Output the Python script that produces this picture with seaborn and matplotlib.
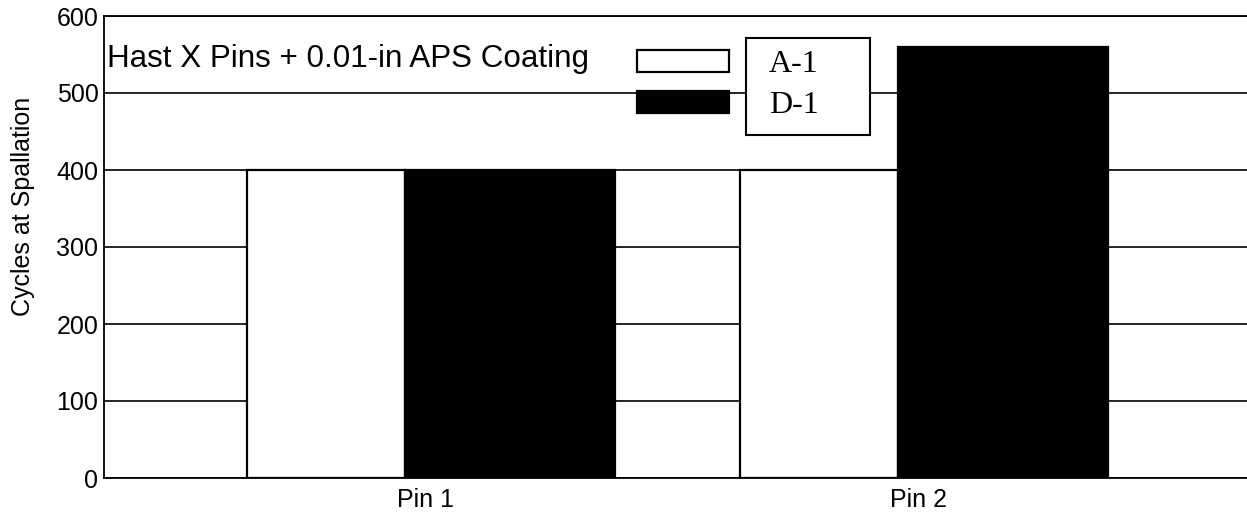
import matplotlib
matplotlib.use("Agg")
import matplotlib.pyplot as plt
from matplotlib.patches import Rectangle
import seaborn as sns
import pandas as pd

# Data
pins = ["Pin 1", "Pin 2"]
series = ["A-1", "D-1"]
a1_cycles = [400, 400]
d1_cycles = [400, 560]
y_ticks = [0, 100, 200, 300, 400, 500, 600]
title_text = "Hast X Pins + 0.01-in APS Coating"
y_label = "Cycles at Spallation"

df = pd.DataFrame({
    "pin": pins * 2,
    "series": [series[0]] * len(pins) + [series[1]] * len(pins),
    "cycles": a1_cycles + d1_cycles,
})

sns.set_theme(style="white")
plt.rcParams["font.family"] = ["Liberation Sans", "DejaVu Sans"]

W, H = 1247, 518
fig = plt.figure(figsize=(W / 100, H / 100), dpi=100)
ax_left, ax_right, ax_top, ax_bot = 104, 1247, 16, 478
ax = fig.add_axes([ax_left / W, 1 - ax_bot / H, (ax_right - ax_left) / W, (ax_bot - ax_top) / H])

sns.barplot(data=df, x="pin", y="cycles", hue="series", order=pins, hue_order=series,
            palette=["white", "black"], width=0.742, edgecolor="black", linewidth=1.6,
            saturation=1, ax=ax, legend=False, zorder=3)

# Split each group: narrower light bar, wider dark bar
spans = {series[0]: (-0.362, 0.322), series[1]: (-0.040, 0.425)}
for i, s in enumerate(series):
    for patch in ax.containers[i]:
        c = round(patch.get_x() + patch.get_width() / 2)
        off, w = spans[s]
        patch.set_x(c + off)
        patch.set_width(w)

ax.set_xlim(-0.651, 1.667)
ax.set_ylim(0, 600)
ax.set_yticks(y_ticks)
ax.yaxis.grid(True, color="black", linewidth=1.2, zorder=0)
ax.set_axisbelow(True)
ax.tick_params(axis="y", length=2, width=1.2, color="black", pad=2, labelsize=18)
ax.tick_params(axis="x", length=0, pad=7, labelsize=18)
for lab in ax.get_xticklabels() + ax.get_yticklabels():
    lab.set_color("black")

for side in ["left", "bottom", "top"]:
    ax.spines[side].set_visible(True)
    ax.spines[side].set_color("black")
    ax.spines[side].set_linewidth(1.3)
ax.spines["right"].set_visible(False)

ax.set_xlabel("")
ax.set_ylabel(y_label, fontsize=18, color="black")
ax.yaxis.set_label_coords(-0.060, 0.589)

ax.text((107 - ax_left) / (ax_right - ax_left), (ax_bot - 67) / (ax_bot - ax_top), title_text,
        transform=ax.transAxes, fontsize=22.6, color="black", ha="left", va="baseline")

# Legend: swatches beside a framed label box
handles = [Rectangle((0, 0), 1, 1, facecolor="white", edgecolor="black", linewidth=1.6),
           Rectangle((0, 0), 1, 1, facecolor="black", edgecolor="black", linewidth=1.6)]
leg_fs = 23
px_per_fs = leg_fs * 100 / 72
leg = ax.legend(handles, series, loc="upper left",
                bbox_to_anchor=((637 - ax_left) / (ax_right - ax_left), (ax_bot - 50) / (ax_bot - ax_top)),
                frameon=False, borderpad=0, borderaxespad=0,
                handlelength=92 / px_per_fs, handleheight=22 / px_per_fs,
                handletextpad=40 / px_per_fs, labelspacing=0.36,
                prop={"family": ["Liberation Serif", "DejaVu Serif"], "size": leg_fs})
for t in leg.get_texts():
    t.set_color("black")

bx0, bx1, by0, by1 = 746, 870, 38, 135
frame = Rectangle(((bx0 - ax_left) / (ax_right - ax_left), (ax_bot - by1) / (ax_bot - ax_top)),
                  (bx1 - bx0) / (ax_right - ax_left), (by1 - by0) / (ax_bot - ax_top),
                  transform=ax.transAxes, facecolor="white", edgecolor="black",
                  linewidth=1.5, zorder=4)
ax.add_patch(frame)
leg.set_zorder(5)

fig.savefig("out.png", dpi=100)
